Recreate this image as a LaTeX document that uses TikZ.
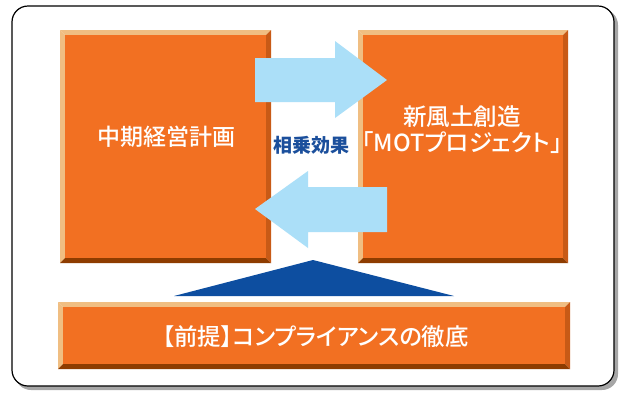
\documentclass[tikz,border=0pt]{standalone}
\usepackage{fontspec}
\newfontfamily\cjk{Noto Sans CJK JP Medium}
\newfontfamily\cjkp[RawFeature=+palt]{Noto Sans CJK JP Medium}
\definecolor{face}{HTML}{F27022}
\definecolor{lite}{HTML}{F0BE82}
\definecolor{darkr}{HTML}{C85A16}
\definecolor{darkb}{HTML}{8E3C00}
\definecolor{arrowc}{HTML}{ABDFF8}
\definecolor{navy}{HTML}{0D4EA0}
\definecolor{labc}{HTML}{1B4F9C}
\tikzset{
  facebox/.style={fill=face, inner sep=0pt},
  facetext/.style={text=white, font=\cjk\fontsize{23}{26}\selectfont, align=center, inner sep=0pt},
  bigarrow/.style={fill=arrowc},
}
\newcommand{\bevel}[4]{%
  \fill[lite] (#1,#2) -- (#3,#2) -- ($(#3,#2)+(-5,5)$) -- ($(#1,#2)+(5,5)$) -- cycle;
  \fill[lite] (#1,#2) -- ($(#1,#2)+(5,5)$) -- ($(#1,#4)+(5,-5)$) -- (#1,#4) -- cycle;
  \fill[darkr] (#3,#2) -- (#3,#4) -- ($(#3,#4)+(-5,-5)$) -- ($(#3,#2)+(-5,5)$) -- cycle;
  \fill[darkb] (#1,#4) -- (#3,#4) -- ($(#3,#4)+(-5,-5)$) -- ($(#1,#4)+(5,-5)$) -- cycle;
}
\usetikzlibrary{calc}
\begin{document}
\begin{tikzpicture}[x=1pt,y=-1pt]
\useasboundingbox (0,0) rectangle (621,392);
% outer frame with shadow
\fill[gray!70, rounded corners=16pt] (15,9) rectangle (618,390);
\draw[line width=1.2pt, fill=white, rounded corners=16pt] (12,6) rectangle (614,386);
% left box
\bevel{60}{30}{271}{263}
\node[facebox, minimum width=201pt, minimum height=223pt] (plan) at (165.5,146.5) {};
\node[facetext] (plant) at (166,137) {中期経営計画};
% right box
\bevel{358}{30}{568}{263}
\node[facebox, minimum width=200pt, minimum height=223pt] (mot) at (463,146.5) {};
\node[facetext, font=\cjkp\fontsize{23.5}{26}\selectfont] (mott) at (462,130) {新風土創造\\「MOTプロジェクト」};
% bottom box
\bevel{58}{302}{570}{369}
\node[facebox, minimum width=502pt, minimum height=57pt] (base) at (314,335.5) {};
\node[facetext, font=\cjkp\fontsize{23.4}{26}\selectfont] (baset) at (315.5,337) {【前提】コンプライアンスの徹底};
% arrows
\fill[bigarrow] (255,58) -- (335,58) -- (335,41) -- (387,80) -- (335,118) -- (335,102) -- (255,102) -- cycle;
\fill[bigarrow] (387,187) -- (308,187) -- (308,171) -- (255,209) -- (308,248) -- (308,232) -- (387,232) -- cycle;
\node[font=\cjk\bfseries\fontsize{19}{22}\selectfont, text=labc, inner sep=0pt] (syn) at (311,145) {相乗効果};
% triangle
\coordinate (apex) at (313,260);
\fill[navy] (apex) -- (454,296) -- (174,296) -- cycle;
\end{tikzpicture}
\end{document}
